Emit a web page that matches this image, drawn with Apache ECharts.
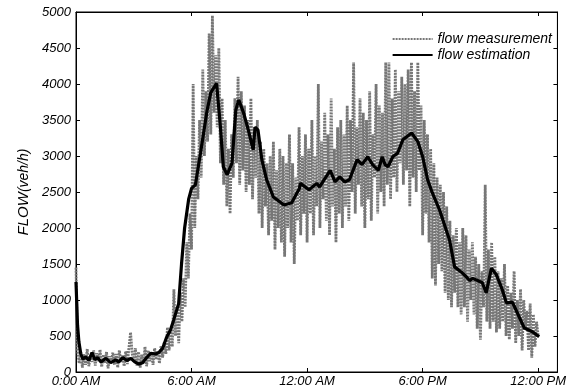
<!DOCTYPE html>
<html>
<head>
<meta charset="utf-8">
<script src="https://cdn.jsdelivr.net/npm/echarts@6/dist/echarts.min.js"></script>
<style>
  html, body { margin: 0; padding: 0; background: #fff; }
  #chart { width: 569px; height: 391px; }
</style>
</head>
<body>
<div id="chart"></div>
<script>
// x tick labels (hours -> label)
const tickLabels = { 0: '0:00 AM', 6: '6:00 AM', 12: '12:00 AM', 18: '6:00 PM', 24: '12:00 PM' };

// flow measurement, one value every 5 minutes (12 per hour), 0:00 .. 24:00
const measFlow = [
  // 0h
  1450, 300, 120, 280, 60, 250, 100, 320, 80, 230, 140, 300,
  // 1h
  90, 260, 150, 310, 70, 240, 120, 280, 50, 220, 160, 270,
  // 2h
  100, 250, 60, 300, 130, 230, 80, 290, 110, 340, 550, 260,
  // 3h
  140, 330, 90, 280, 60, 240, 120, 350, 80, 300, 150, 270,
  // 4h
  100, 330, 170, 290, 120, 360, 200, 420, 250, 620, 300, 560,
  // 5h
  350, 1150, 500, 900, 400, 1100, 700, 1300, 900, 1800, 1300, 2200,
  // 6h
  1700, 4000, 2000, 3000, 2400, 3500, 2700, 4200, 3000, 3900, 3200, 4700,
  // 7h
  3300, 4950, 3600, 4400, 3400, 4500, 2900, 3800, 2600, 3500, 2300, 3100,
  // 8h
  2200, 3300, 2700, 3800, 2900, 4100, 2600, 3900, 2800, 3700, 2500, 3500,
  // 9h
  2600, 3800, 2400, 3400, 2700, 3500, 2200, 3200, 2000, 3100, 2300, 2900,
  // 10h
  1900, 3000, 2100, 3200, 1700, 2800, 2000, 3100, 1800, 3000, 1600, 2900,
  // 11h
  2000, 3300, 1800, 2900, 1500, 2700, 2100, 3400, 1900, 3000, 2200, 3300,
  // 12h
  1800, 3100, 2200, 3500, 1900, 3000, 2300, 4000, 2000, 3200, 2400, 3600,
  // 13h
  2100, 3300, 1900, 3800, 2300, 3100, 1800, 3400, 2200, 3500, 2000, 3300,
  // 14h
  2300, 3700, 2100, 3500, 2500, 4300, 2200, 3400, 2600, 3800, 2300, 3600,
  // 15h
  2000, 3500, 2400, 3900, 2100, 3300, 2700, 4000, 2200, 3700, 2500, 3600,
  // 16h
  2300, 4300, 2600, 4300, 2400, 3800, 2700, 4200, 2500, 3900, 2900, 4100,
  // 17h
  2600, 4000, 2800, 4200, 2300, 4300, 2700, 3900, 2500, 4300, 2800, 3700,
  // 18h
  1900, 3500, 2200, 3300, 1800, 3100, 1300, 2900, 1200, 2700, 1500, 2600,
  // 19h
  1400, 2500, 1100, 2300, 1000, 2100, 900, 1900, 1100, 2000, 900, 1800,
  // 20h
  800, 2000, 900, 1900, 700, 1700, 1000, 1800, 800, 1600, 600, 1500,
  // 21h
  450, 1400, 900, 2600, 700, 1700, 600, 1800, 700, 1600, 550, 1400,
  // 22h
  600, 1300, 700, 1500, 500, 1200, 450, 1100, 600, 1400, 400, 1000,
  // 23h
  500, 1150, 300, 1000, 600, 850, 300, 950, 200, 800, 350, 700,
  // 24h
  500
];

// flow estimation, read at irregular times (hours)
const estHours = [
  0, 0.08, 0.15, 0.25, 0.36, 0.5, 0.67, 0.83, 0.98, 1.13, 1.3, 1.55, 1.8, 2.07, 2.22, 2.43,
  2.64, 2.85, 3.05, 3.26, 3.46, 3.67, 3.88, 4.14, 4.3, 4.5, 4.7, 4.9, 5.07, 5.17, 5.33, 5.48,
  5.64, 5.85, 6.0, 6.2, 6.47, 6.8, 7.0, 7.3, 7.5, 7.65, 7.85, 8.1, 8.3, 8.45, 8.7, 8.95,
  9.2, 9.3, 9.45, 9.65, 9.9, 10.25, 10.8, 11.2, 11.6, 11.65, 12.1, 12.5, 12.65, 13.2, 13.45,
  13.7, 13.95, 14.2, 14.6, 14.85, 15.15, 15.4, 15.7, 15.9, 16.05, 16.2, 16.45, 16.7, 16.97,
  17.43, 17.75, 18.0, 18.26, 18.5, 18.88, 19.4, 19.66, 20.0, 20.28, 20.43, 20.6, 20.85,
  21.1, 21.3, 21.57, 21.83, 22.14, 22.35, 22.66, 22.92, 23.28, 23.7, 24.05
];
const estFlow = [
  1250, 650, 420, 250, 180, 210, 160, 270, 170, 200, 140, 190, 130, 170, 140, 200,
  160, 190, 140, 110, 130, 200, 260, 250, 270, 330, 480, 580, 720, 700, 950, 1500,
  2000, 2400, 2550, 2600, 3050, 3620, 3880, 4010, 3400, 2850, 2740, 2900, 3640, 3780, 3600, 3360,
  3085, 3400, 3360, 2950, 2670, 2430, 2320, 2350, 2550, 2620, 2530, 2620, 2570, 2800, 2640,
  2710, 2640, 2670, 2950, 2880, 2990, 2880, 2800, 2990, 2880, 2850, 2990, 3040, 3225,
  3320, 3200, 2990, 2670, 2490, 2250, 1830, 1460, 1390, 1320, 1270, 1300, 1270,
  1240, 1100, 1440, 1350, 1140, 960, 970, 820, 610, 560, 490
];

const measData = measFlow.map((v, i) => [i / 12, v]);
const estData = estFlow.map((v, i) => [estHours[i], v]);

const font = 'Liberation Sans, Arial, sans-serif';
const chart = echarts.init(document.getElementById('chart'));

const baseX = {
  type: 'value',
  min: 0,
  max: 25,
  interval: 6,
  axisLine: { show: true, onZero: false, lineStyle: { color: '#000', width: 1 } },
  axisTick: { show: true, inside: true, length: 4, lineStyle: { color: '#000' } },
  splitLine: { show: false }
};
const baseY = {
  type: 'value',
  min: 0,
  max: 5000,
  interval: 500,
  axisLine: { show: true, onZero: false, lineStyle: { color: '#000', width: 1 } },
  axisTick: { show: true, inside: true, length: 4, lineStyle: { color: '#000' } },
  splitLine: { show: false }
};

chart.setOption({
  animation: false,
  backgroundColor: '#fff',
  grid: { left: 76, right: 10, top: 12, bottom: 19, show: true, borderColor: '#000', borderWidth: 1 },
  legend: {
    orient: 'vertical',
    right: 12,
    top: 27,
    itemWidth: 40,
    itemHeight: 14,
    itemGap: 2,
    itemStyle: { opacity: 0 },
    textStyle: { fontFamily: font, fontStyle: 'italic', fontSize: 14, color: '#000' },
    data: ['flow measurement', 'flow estimation']
  },
  xAxis: [
    Object.assign({}, baseX, {
      position: 'bottom',
      axisLabel: {
        fontFamily: font, fontStyle: 'italic', fontSize: 13, color: '#000', margin: 3,
        showMaxLabel: false,
        formatter: v => tickLabels[v] || ''
      }
    }),
    Object.assign({}, baseX, { position: 'top', axisLabel: { show: false } })
  ],
  yAxis: [
    Object.assign({}, baseY, {
      position: 'left',
      name: '{a|FLOW}{b|(veh/h)}',
      nameLocation: 'middle',
      nameGap: 44,
      nameRotate: 90,
      nameTextStyle: {
        rich: {
          a: { fontFamily: font, fontStyle: 'italic', fontSize: 15, color: '#000' },
          b: { fontFamily: font, fontStyle: 'italic', fontSize: 14, color: '#000' }
        }
      },
      axisLabel: {
        fontFamily: font, fontStyle: 'italic', fontSize: 13, color: '#000', margin: 5,
        formatter: v => String(v)
      }
    }),
    Object.assign({}, baseY, { position: 'right', axisLabel: { show: false } })
  ],
  series: [
    {
      name: 'flow measurement',
      type: 'line',
      data: measData,
      symbol: 'none',
      color: '#777',
      lineStyle: { color: '#777', width: 2.8, type: [2, 1] },
      z: 2
    },
    {
      name: 'flow estimation',
      type: 'line',
      data: estData,
      symbol: 'none',
      color: '#000',
      lineStyle: { color: '#000', width: 3.2 },
      z: 3
    }
  ]
});
</script>
</body>
</html>
